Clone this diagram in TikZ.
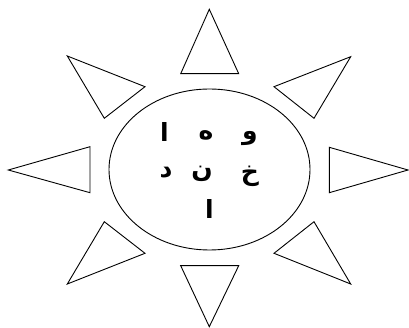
\documentclass[tikz,border=0pt]{standalone}
\usepackage{fontspec}
\usetikzlibrary{shapes.geometric}
\newfontfamily\arabicfont[Script=Arabic,BoldFont={DejaVu Sans Bold}]{DejaVu Sans}
\TeXXeTstate=1
\begin{document}
\begin{tikzpicture}[x=1pt,y=-1pt,
  ray/.style={draw=black,line width=0.9pt,line join=miter},
  letter/.style={font=\arabicfont\bfseries\fontsize{25}{28}\selectfont,inner sep=0pt}]
\useasboundingbox (0,0) rectangle (409,328);
\node[draw,line width=0.9pt,ellipse,minimum width=201pt,minimum height=161pt,inner sep=0pt] (sun) at (209.5,169.5) {};
% rays
\draw[ray] (209.3,9.3) -- (180.7,73.7) -- (238.7,73.7) -- cycle;
\draw[ray] (209.3,326.7) -- (180.7,265.7) -- (238.7,265.7) -- cycle;
\draw[ray] (8.3,170) -- (90,146.7) -- (90,192.7) -- cycle;
\draw[ray] (408,170) -- (329.3,147.3) -- (329.3,192.7) -- cycle;
\draw[ray] (67.3,56) -- (145,86.7) -- (104.3,118.3) -- cycle;
\draw[ray] (350.7,56.7) -- (274,86.7) -- (314,118.3) -- cycle;
\draw[ray] (104.3,221.7) -- (145,253.3) -- (67.3,284) -- cycle;
\draw[ray] (314,221.7) -- (274,253.3) -- (350.7,284) -- cycle;
% letters
\node[letter] (a1) at (164.5,132) {\beginR ا\endR};
\node[letter] (h) at (206,135.5) {\beginR ه\endR};
\node[letter] (w) at (250,139) {\beginR و\endR};
\node[letter] (d) at (166,173) {\beginR د\endR};
\node[letter] (n) at (202,174) {\beginR ن\endR};
\node[letter] (kh) at (250,176) {\beginR خ\endR};
\node[letter] (a2) at (209.5,209) {\beginR ا\endR};
\end{tikzpicture}
\end{document}
